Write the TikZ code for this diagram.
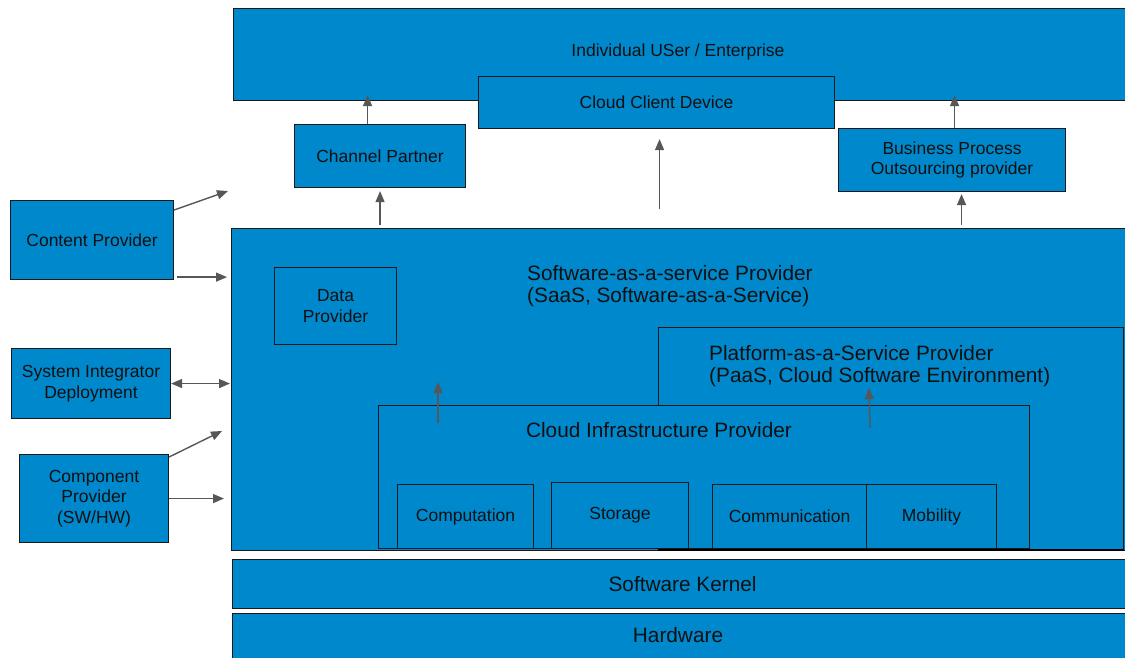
\documentclass[tikz,border=0pt]{standalone}
\usepackage{fontspec}
\setmainfont{Liberation Sans}
\usetikzlibrary{arrows.meta,calc}
\definecolor{boxblue}{HTML}{0088CC}
\definecolor{ink}{HTML}{101010}
\definecolor{arrowgray}{HTML}{575757}
\newcommand\txtS{\fontsize{17.5}{20.5}\selectfont}
\newcommand\txtL{\fontsize{20.8}{22}\selectfont}
\begin{document}
\begin{tikzpicture}[x=1pt,y=-1pt,
  box/.style={draw=black!90, line width=1.1pt, fill=boxblue, inner sep=0pt,
    anchor=north west, text=ink, font=\txtS, align=center},
  lbl/.style={text=ink, font=\txtS, inner sep=0pt, align=center},
  lbig/.style={text=ink, font=\txtL, inner sep=0pt},
  arr/.style={draw=arrowgray, line width=1.4pt, -{Triangle[length=11pt,width=9pt]}},
  dbl/.style={draw=arrowgray, line width=1.4pt,
    {Triangle[length=11pt,width=9pt]}-{Triangle[length=11pt,width=9pt]}}]
\useasboundingbox (0,0) rectangle (1125,657);
\clip (0,0) rectangle (1125,657);

% top tier: users and client devices
\node[box, minimum width=900pt, minimum height=92pt] (user) at (233,8) {};
\node[lbl] (userlbl) at (678,52) {Individual USer / Enterprise};
\node[box, minimum width=356pt, minimum height=52pt] (ccd) at (478,76) {Cloud Client Device};
\node[box, minimum width=171pt, minimum height=63pt] (cp) at (294,124) {Channel Partner};
\node[box, minimum width=227pt, minimum height=63pt] (bp) at (838,128) {Business Process\\Outsourcing provider};

% side providers
\node[box, minimum width=163pt, minimum height=79pt] (content) at (10,200) {Content Provider};
\node[box, minimum width=159pt, minimum height=70pt] (sysint) at (11,348) {System Integrator\\Deployment};
\node[box, minimum width=149pt, minimum height=88pt] (comp) at (19,454) {Component\\Provider\\(SW/HW)};

% service stack
\node[box, minimum width=900pt, minimum height=322pt] (saas) at (231,228) {};
\node[lbig, anchor=west, align=left] (saaslbl) at (527,286) {Software-as-a-service Provider\\(SaaS, Software-as-a-Service)};
\node[box, minimum width=122pt, minimum height=77pt] (dp) at (274,267) {Data\\Provider};
\node[box, minimum width=465pt, minimum height=222pt] (paas) at (658,327) {};
\node[lbig, anchor=west, align=left] (paaslbl) at (709,366) {Platform-as-a-Service Provider\\(PaaS, Cloud Software Environment)};
\node[box, minimum width=651pt, minimum height=143pt] (infra) at (378,405) {};
\node[lbig] (infralbl) at (659,430) {Cloud Infrastructure Provider};
\node[box, minimum width=136pt, minimum height=64pt] (cmp) at (397,484) {Computation};
\node[box, minimum width=137pt, minimum height=66pt] (sto) at (551,482) {Storage};
\node[box, minimum width=154pt, minimum height=64pt] (com) at (712,484) {Communication};
\node[box, minimum width=130pt, minimum height=64pt] (mob) at (866,484) {Mobility};
\draw[black, line width=1.6pt] (paas.south west) -- (paas.south east);

% base layers
\node[box, minimum width=900pt, minimum height=49pt, font=\txtL] (kernel) at (232,559) {Software Kernel};
\node[box, minimum width=900pt, minimum height=60pt] (hw) at (232,613) {};
\node[lbig] (hwlbl) at (678,635) {Hardware};

% free arrow ends
\coordinate (contentend) at (228,191);
\coordinate (compend) at (222,431);
\coordinate (dpin) at (438,382);
\coordinate (paasin) at (869,388);

% vertical flows
\draw[arr, shorten >=-6pt] ($(cp.north)+(-12.5,0)$) -- ($(cp.north |- user.south)+(-12.5,0)$);
\draw[arr, shorten <=3pt, shorten >=3pt] (cp.south |- saas.north) -- (cp.south);
\draw[arr, shorten <=19pt, shorten >=10pt] ($(ccd.south |- saas.north)+(3,0)$) -- ($(ccd.south)+(3,0)$);
\draw[arr, shorten >=-6pt] ($(bp.north)+(2.5,0)$) -- ($(bp.north |- user.south)+(2.5,0)$);
\draw[arr, shorten <=3pt, shorten >=2pt] ($(bp.south |- saas.north)+(9.5,0)$) -- ($(bp.south)+(9.5,0)$);

% side flows
\draw[arr] ($(content.north east)+(0,10)$) -- (contentend);
\draw[arr, shorten >=4pt] ($(content.south east)+(3,-3)$) -- ($(content.south east -| saas.west)+(0,-3)$);
\draw[dbl, shorten >=1pt] (sysint.east) -- (sysint.east -| saas.west);
\draw[arr] ($(comp.north east)+(0,3)$) -- (compend);
\draw[arr, shorten >=7pt] (comp.east) -- (comp.east -| saas.west);

% inner flows
\draw[arr] ($(infra.north west)+(60,18)$) -- (dpin);
\draw[arr] ($(infra.north east)+(-160,23)$) -- (paasin);
\end{tikzpicture}
\end{document}
